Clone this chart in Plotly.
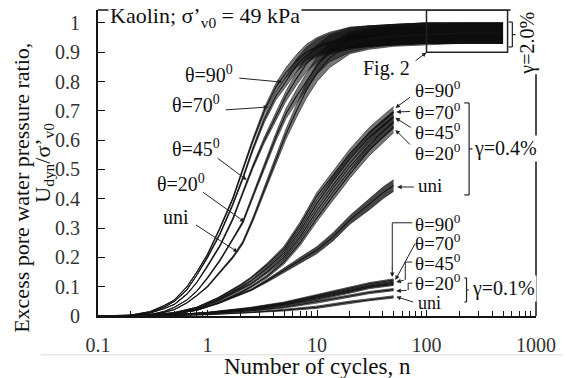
import numpy as np
import plotly.graph_objects as go

# ---------------- data ----------------
# gamma = 2.0 %
n_g2 = [0.1, 0.2, 0.3, 0.4, 0.5, 0.65, 0.8, 1.0, 1.3, 1.7, 2.1, 2.6, 3.3, 4.2, 5.2, 6.5, 8, 10, 13, 20, 30, 50, 100, 200, 500]
g2_t90 = [0, 0.003, 0.015, 0.035, 0.055, 0.1, 0.15, 0.21, 0.3, 0.4, 0.5, 0.6, 0.7, 0.78, 0.83, 0.87, 0.9, 0.92, 0.935, 0.95, 0.955, 0.96, 0.965, 0.965, 0.965]
g2_t70 = [0, 0.002, 0.012, 0.03, 0.05, 0.09, 0.14, 0.2, 0.28, 0.38, 0.47, 0.57, 0.67, 0.75, 0.8, 0.855, 0.89, 0.915, 0.93, 0.95, 0.955, 0.96, 0.965, 0.965, 0.965]
g2_t45 = [0, 0.002, 0.01, 0.025, 0.04, 0.075, 0.115, 0.17, 0.24, 0.33, 0.42, 0.51, 0.6, 0.68, 0.75, 0.81, 0.86, 0.895, 0.925, 0.945, 0.955, 0.96, 0.965, 0.965, 0.965]
g2_t20 = [0, 0, 0.005, 0.015, 0.03, 0.055, 0.085, 0.13, 0.19, 0.26, 0.32, 0.41, 0.51, 0.61, 0.69, 0.75, 0.8, 0.855, 0.9, 0.935, 0.95, 0.96, 0.965, 0.965, 0.965]
g2_uni = [0, 0, 0.004, 0.012, 0.022, 0.045, 0.07, 0.1, 0.15, 0.2, 0.25, 0.33, 0.43, 0.53, 0.62, 0.7, 0.77, 0.83, 0.88, 0.93, 0.945, 0.955, 0.96, 0.965, 0.965]
g2_halfband = [0, 0, 0, 0, 0, 0, 0, 0.002, 0.003, 0.004, 0.005, 0.007, 0.01, 0.013, 0.017, 0.022, 0.027, 0.03, 0.033, 0.035, 0.035, 0.035, 0.035, 0.035, 0.035]

# gamma = 0.4 %
n_g04 = [0.1, 0.2, 0.3, 0.5, 0.8, 1.26, 2, 2.5, 3.5, 5, 7, 10, 14, 20, 30, 40, 50]
g04_t90 = [0, 0, 0.003, 0.012, 0.03, 0.062, 0.105, 0.13, 0.175, 0.23, 0.31, 0.41, 0.48, 0.555, 0.625, 0.665, 0.695]
g04_t70 = [0, 0, 0.002, 0.01, 0.026, 0.057, 0.097, 0.12, 0.163, 0.215, 0.29, 0.385, 0.46, 0.535, 0.61, 0.65, 0.68]
g04_t45 = [0, 0, 0.002, 0.009, 0.023, 0.052, 0.09, 0.11, 0.15, 0.2, 0.27, 0.36, 0.435, 0.51, 0.585, 0.63, 0.66]
g04_t20 = [0, 0, 0.001, 0.007, 0.02, 0.045, 0.08, 0.1, 0.135, 0.185, 0.25, 0.335, 0.41, 0.485, 0.565, 0.61, 0.645]
g04_uni = [0, 0, 0.002, 0.008, 0.02, 0.044, 0.073, 0.089, 0.12, 0.157, 0.19, 0.225, 0.27, 0.328, 0.38, 0.42, 0.445]
g04_halfband = [0, 0, 0, 0, 0, 0.002, 0.003, 0.003, 0.005, 0.008, 0.01, 0.012, 0.014, 0.015, 0.018, 0.02, 0.02]

# gamma = 0.1 %
n_g01 = [0.1, 0.3, 0.5, 1, 2.5, 5, 10, 20, 30, 50]
g01_t90 = [0, 0.002, 0.005, 0.012, 0.028, 0.045, 0.07, 0.095, 0.11, 0.123]
g01_t70 = [0, 0.002, 0.004, 0.011, 0.025, 0.041, 0.064, 0.088, 0.102, 0.115]
g01_t45 = [0, 0.001, 0.004, 0.01, 0.022, 0.037, 0.058, 0.082, 0.097, 0.108]
g01_t20 = [0, 0.001, 0.003, 0.008, 0.018, 0.03, 0.048, 0.068, 0.08, 0.09]
g01_uni = [0, 0, 0.002, 0.005, 0.012, 0.02, 0.03, 0.047, 0.056, 0.065]
g01_halfband = [0, 0, 0, 0.001, 0.002, 0.003, 0.004, 0.004, 0.004, 0.004]

x_tick_vals = [0.1, 1, 10, 100, 1000]
x_tick_text = ["0.1", "1", "10", "100", "1000"]
x_minor_vals = [0.2, 0.3, 0.4, 0.5, 0.6, 0.7, 0.8, 0.9,
                2, 3, 4, 5, 6, 7, 8, 9,
                20, 30, 40, 50, 60, 70, 80, 90,
                200, 300, 400, 500, 600, 700, 800, 900]
y_tick_vals = [0, 0.1, 0.2, 0.3, 0.4, 0.5, 0.6, 0.7, 0.8, 0.9, 1.0]
y_tick_text = ["0", "0.1", "0.2", "0.3", "0.4", "0.5", "0.6", "0.7", "0.8", "0.9", "1"]

# ---------------- figure ----------------
FONT = "Liberation Serif, Times New Roman, serif"
INK = "#151515"
fig = go.Figure()


def add_curve(n, y, hw, band_alpha=0.55):
    y = np.asarray(y, float)
    hw = np.asarray(hw, float)
    lo = np.clip(y - hw, 0, None)
    hi = y + hw
    fig.add_trace(go.Scatter(x=n, y=lo, mode="lines", line=dict(width=0.6, color=INK),
                             hoverinfo="skip"))
    fig.add_trace(go.Scatter(x=n, y=hi, mode="lines", line=dict(width=0.6, color=INK),
                             fill="tonexty", fillcolor=f"rgba(10,10,10,{band_alpha})",
                             hoverinfo="skip"))
    fig.add_trace(go.Scatter(x=n, y=y, mode="lines", line=dict(width=1.1, color=INK)))


for c in [g2_t90, g2_t70, g2_t45, g2_t20, g2_uni]:
    add_curve(n_g2, c, g2_halfband)
for c in [g04_t90, g04_t70, g04_t45, g04_t20]:
    add_curve(n_g04, c, g04_halfband)
add_curve(n_g04, g04_uni, g04_halfband, 0.75)
for c in [g01_t90, g01_t70, g01_t45, g01_t20, g01_uni]:
    add_curve(n_g01, c, g01_halfband)

L = np.log10
ann = []
LBL = 19


def text(xn, y, s, anchor="center", size=LBL, bg=None, angle=0):
    d = dict(x=L(xn), y=y, xref="x", yref="y", text=s, showarrow=False,
             xanchor=anchor, yanchor="middle", textangle=angle,
             font=dict(family=FONT, size=size, color="#111"))
    if bg:
        d.update(bgcolor=bg, borderpad=1)
    ann.append(d)


def arrow(x0, y0, x1, y1):
    ann.append(dict(x=L(x1), y=y1, ax=L(x0), ay=y0, xref="x", yref="y", axref="x", ayref="y",
                    text="", showarrow=True, arrowhead=2, arrowsize=0.9, arrowwidth=1,
                    arrowcolor="#222", standoff=0))


shapes = []


def seg(pts, width=1.2):
    for (xa, ya), (xb, yb) in zip(pts[:-1], pts[1:]):
        shapes.append(dict(type="line", xref="x", yref="y", x0=xa, y0=ya, x1=xb, y1=yb,
                           line=dict(color="#222", width=width), layer="above"))


# frame top and right (drawn as shapes, gaps are covered by labels)
shapes.append(dict(type="line", xref="paper", yref="paper", x0=0, x1=1, y0=1, y1=1,
                   line=dict(color=INK, width=1.5), layer="above"))
shapes.append(dict(type="line", xref="paper", yref="paper", x0=1, x1=1, y0=0, y1=1,
                   line=dict(color=INK, width=1.5), layer="above"))
# white patch where the gamma=2.0% label sits on the frame corner
shapes.append(dict(type="rect", xref="paper", yref="paper", x0=0.942, x1=1.2, y0=0.79, y1=1.1,
                   fillcolor="white", line=dict(width=0), layer="above"))

# Title text
text(0.123, 1.02, "Kaolin; σ’<sub>v0</sub> = 49 kPa", anchor="left", size=22, bg="white")

# gamma 2% labels
text(1.04, 0.826, "θ=90<sup>0</sup>", size=20)
arrow(1.89, 0.812, 4.8, 0.798)
text(0.79, 0.723, "θ=70<sup>0</sup>", size=20)
arrow(1.42, 0.703, 3.59, 0.713)
text(0.79, 0.573, "θ=45<sup>0</sup>", size=20)
arrow(1.2, 0.542, 2.28, 0.464)
text(0.57, 0.454, "θ=20<sup>0</sup>", size=20)
arrow(0.88, 0.426, 2.18, 0.321)
text(0.52, 0.338, "uni", size=20)
arrow(0.76, 0.314, 1.89, 0.218)

# Fig. 2 box
shapes.append(dict(type="rect", xref="x", yref="y", x0=100, x1=550, y0=0.9, y1=1.044,
                   line=dict(color="#222", width=1.5), layer="above"))
text(43, 0.846, "Fig. 2", size=20)
arrow(77, 0.867, 100, 0.899)
# gamma 2% bracket + label
seg([(560, 1.003), (608, 1.003), (608, 0.918), (560, 0.918)])
seg([(608, 0.96), (650, 0.96)])
text(10 ** 2.92, 0.93, "γ=2.0%", angle=-90, size=20)

# gamma 0.4% labels
text(75, 0.773, "θ=90<sup>0</sup>", anchor="left")
arrow(73, 0.75, 52, 0.71)
text(75, 0.701, "θ=70<sup>0</sup>", anchor="left")
arrow(73, 0.698, 53, 0.696)
text(75, 0.630, "θ=45<sup>0</sup>", anchor="left")
arrow(74, 0.64, 52, 0.676)
text(75, 0.558, "θ=20<sup>0</sup>", anchor="left")
arrow(73, 0.58, 52, 0.635)
text(80, 0.444, "uni", anchor="left")
arrow(79, 0.44, 54, 0.44)
seg([(221, 0.727), (245, 0.727), (245, 0.413), (221, 0.413)])
seg([(245, 0.57), (272, 0.57)])
text(526, 0.57, "γ=0.4%", bg="white", size=20)

# gamma 0.1% labels
text(75, 0.318, "θ=90<sup>0</sup>", anchor="left")
seg([(74, 0.318), (48.7, 0.318), (48.7, 0.16)], width=1)
arrow(48.7, 0.17, 48.7, 0.133)
text(75, 0.251, "θ=70<sup>0</sup>", anchor="left")
arrow(80, 0.252, 52, 0.123)
text(75, 0.184, "θ=45<sup>0</sup>", anchor="left")
seg([(74, 0.184), (64, 0.184), (64, 0.123)], width=1)
arrow(64, 0.123, 53, 0.116)
text(75, 0.117, "θ=20<sup>0</sup>", anchor="left")
seg([(74, 0.112), (68, 0.112), (68, 0.088)], width=1)
arrow(68, 0.088, 53, 0.085)
text(80, 0.043, "uni", anchor="left", size=18)
arrow(78, 0.046, 53, 0.066)
seg([(222, 0.130), (232, 0.130), (232, 0.048), (222, 0.048)])
seg([(232, 0.089), (242, 0.089)])
text(510, 0.093, "γ=0.1%", bg="white", size=20)

# axis titles
ann.append(dict(x=0.5, y=-0.165, xref="paper", yref="paper", text="Number of cycles, n",
                showarrow=False, xanchor="center", yanchor="middle",
                font=dict(family=FONT, size=23, color="#111")))
ann.append(dict(x=-0.175, y=0.42, xref="paper", yref="paper",
                text="Excess pore water pressure ratio,", textangle=-90,
                showarrow=False, xanchor="center", yanchor="middle",
                font=dict(family=FONT, size=22, color="#111")))
ann.append(dict(x=-0.124, y=0.50, xref="paper", yref="paper",
                text="U<sub>dyn</sub>/σ’<sub>v0</sub>", textangle=-90,
                showarrow=False, xanchor="center", yanchor="middle",
                font=dict(family=FONT, size=22, color="#111")))

# faint separator line from the scan
shapes.append(dict(type="line", xref="paper", yref="paper", x0=-0.13, x1=1.06, y0=-0.127, y1=-0.127,
                   line=dict(color="#d8d8d8", width=1), layer="above"))

fig.update_layout(
    width=566, height=378,
    margin=dict(l=98, r=23, t=10, b=62),
    plot_bgcolor="white", paper_bgcolor="white",
    showlegend=False,
    annotations=ann, shapes=shapes,
    font=dict(family=FONT),
)
fig.update_xaxes(type="log", range=[-1, 3], showline=True, linecolor=INK, linewidth=2,
                 ticks="inside", ticklen=6, tickcolor=INK, tickwidth=1,
                 tickvals=x_tick_vals, ticktext=x_tick_text, ticklabelstandoff=10,
                 tickfont=dict(family=FONT, size=20, color="#333"),
                 showgrid=False, zeroline=False,
                 minor=dict(ticks="inside", ticklen=5, tickcolor=INK, tickwidth=1,
                            tickvals=x_minor_vals, showgrid=False))
fig.update_yaxes(range=[0, 1.044], showline=True, linecolor=INK, linewidth=2,
                 ticks="inside", ticklen=7, tickcolor=INK, tickwidth=1,
                 tickvals=y_tick_vals, ticktext=y_tick_text, ticklabelstandoff=12,
                 tickfont=dict(family=FONT, size=20, color="#333"),
                 showgrid=False, zeroline=False)

fig.write_html("out.html")
